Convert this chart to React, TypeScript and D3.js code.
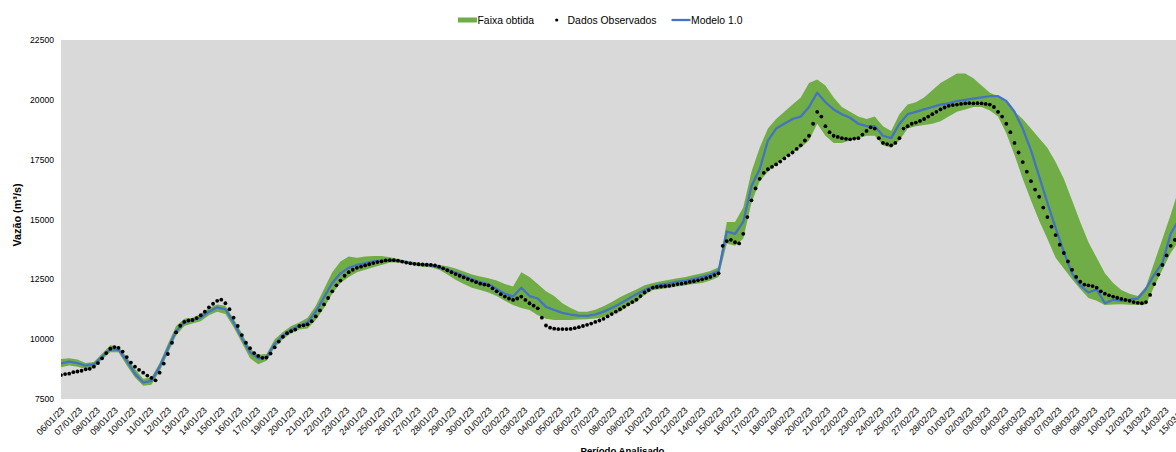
import React from 'react';
import * as d3 from 'd3';

// ---------- DATA ----------
const TICK_STEP_H = 26; // one category label every 26 hourly points
const tickLabels = [
  '06/01/23','07/01/23','08/01/23','09/01/23','10/01/23','11/01/23','12/01/23','13/01/23','14/01/23','15/01/23',
  '16/01/23','17/01/23','19/01/23','20/01/23','21/01/23','22/01/23','23/01/23','24/01/23','25/01/23','26/01/23',
  '27/01/23','28/01/23','29/01/23','30/01/23','01/02/23','02/02/23','03/02/23','04/02/23','05/02/23','06/02/23',
  '07/02/23','08/02/23','09/02/23','10/02/23','11/02/23','12/02/23','14/02/23','15/02/23','16/02/23','17/02/23',
  '18/02/23','19/02/23','20/02/23','21/02/23','22/02/23','23/02/23','24/02/23','25/02/23','27/02/23','28/02/23',
  '01/03/23','02/03/23','03/03/23','04/03/23','05/03/23','06/03/23','07/03/23','08/03/23','09/03/23','10/03/23',
  '12/03/23','13/03/23','14/03/23','15/03/23',
];

const yTicks = [7500, 10000, 12500, 15000, 17500, 20000, 22500];

// Observed flow (m³/s), every 6 hours from 06/01/23 00h
const OBS_STEP_H = 6;
const dadosObservados = [
  8500, 8540, 8560, 8620, 8650, 8680, 8740, 8760, 8850, 9000, 9200, 9420,
  9600, 9670, 9640, 9480, 9250, 9020, 8850, 8720, 8600, 8480, 8380, 8280,
  8600, 8980, 9380, 9850, 10280, 10560, 10720, 10780, 10800, 10880, 11000, 11150,
  11330, 11480, 11600, 11650, 11500, 11250, 10900, 10550, 10170, 9850, 9620, 9420,
  9300, 9220, 9230, 9400, 9660, 9900, 10100, 10250, 10330, 10400, 10550, 10580,
  10620, 10750, 10950, 11200, 11450, 11720, 12000, 12250, 12450, 12650, 12800, 12900,
  12980, 13030, 13080, 13130, 13180, 13220, 13250, 13290, 13300, 13300, 13280, 13240,
  13200, 13170, 13150, 13130, 13120, 13110, 13100, 13080, 13030, 12960, 12880, 12800,
  12720, 12650, 12580, 12510, 12450, 12380, 12320, 12280, 12250, 12120, 12000, 11880,
  11780, 11700, 11640, 11700, 11780, 11640, 11500, 11400, 11290, 10900, 10570, 10480,
  10440, 10420, 10420, 10420, 10430, 10460, 10500, 10550, 10600, 10650, 10720, 10780,
  10850, 10950, 11050, 11150, 11250, 11350, 11450, 11550, 11650, 11800, 11950, 12050,
  12150, 12180, 12200, 12210, 12230, 12260, 12300, 12320, 12350, 12390, 12420, 12460,
  12500, 12550, 12600, 12680, 12750, 13900, 14100, 14150, 14050, 14000, 14400, 15100,
  15800, 16300, 16700, 16950, 17100, 17200, 17300, 17420, 17550, 17680, 17800, 17950,
  18100, 18300, 18500, 19000, 19500, 19300, 18900, 18650, 18500, 18450, 18400, 18370,
  18350, 18380, 18400, 18550, 18700, 18850, 18800, 18400, 18200, 18150, 18100, 18200,
  18400, 18800, 18900, 19000, 19050, 19120, 19200, 19300, 19400, 19500, 19600, 19680,
  19750, 19780, 19800, 19830, 19850, 19860, 19850, 19860, 19850, 19830, 19800, 19700,
  19500, 19300, 19000, 18650, 18200, 17800, 17400, 17000, 16600, 16250, 15950, 15500,
  15100, 14700, 14350, 13950, 13600, 13250, 12900, 12600, 12400, 12280, 12250, 12220,
  12150, 12000, 11900, 11830, 11780, 11730, 11680, 11640, 11600, 11550, 11520, 11500,
  11550, 11850, 12300, 12700, 13100, 13500, 13900, 14150, 14400,
];

// Model and band, every 12 hours from 06/01/23 00h
const SERIES_STEP_H = 12;
const modelo = [
  8990, 9060, 9000, 8890, 8950, 9270, 9580, 9550, 9100, 8550,
  8190, 8260, 8850, 9600, 10330, 10700, 10790, 10900, 11150, 11330,
  11250, 10700, 10050, 9450, 9200, 9240, 9800, 10150, 10400, 10560,
  10700, 11150, 11750, 12350, 12750, 12980, 13100, 13170, 13250, 13280,
  13300, 13280, 13220, 13150, 13100, 13080, 13000, 12900, 12780, 12650,
  12500, 12380, 12300, 12100, 11900, 11780, 12150, 11800, 11700, 11350,
  11220, 11100, 11030, 10980, 10970, 11030, 11150, 11300, 11480, 11680,
  11880, 12050, 12200, 12280, 12330, 12400, 12450, 12520, 12600, 12700,
  12850, 14500, 14400, 14900, 16400, 17100, 18300, 18800, 19000, 19200,
  19300, 19700, 20300, 19900, 19600, 19400, 19250, 19000, 18900, 18900,
  18500, 18400, 19000, 19400, 19500, 19600, 19700, 19800, 19850, 19950,
  20000, 20050, 20100, 20150, 20150, 19950, 19500, 18800, 17900, 16800,
  15700, 14650, 13650, 12750, 12250, 11950, 12080, 11500, 11650, 11600,
  11650, 11700, 12100, 12700, 13200, 14400, 15000,
];
const faixaMin = [
  8830, 8900, 8850, 8750, 8800, 9150, 9450, 9450, 8900, 8400,
  8050, 8100, 8650, 9400, 10150, 10550, 10650, 10750, 11000, 11150,
  11050, 10500, 9850, 9200, 8950, 9100, 9650, 10000, 10250, 10400,
  10450, 10800, 11300, 11900, 12350, 12600, 12800, 12900, 13000, 13100,
  13200, 13200, 13150, 13080, 13030, 13000, 12900, 12700, 12480, 12300,
  12150, 12050, 11950, 11800, 11600, 11430, 11300, 11220, 11000, 10850,
  10800, 10800, 10800, 10820, 10830, 10860, 10920, 11050, 11150, 11400,
  11550, 11850, 12050, 12100, 12150, 12200, 12250, 12300, 12350, 12450,
  12600, 14000, 13900, 14200, 15700, 16600, 17000, 17300, 17600, 17800,
  18000, 18300, 19000, 18500, 18200, 18200, 18300, 18400, 18500, 18500,
  18100, 18000, 18300, 18800, 18900, 18950, 19000, 19100, 19300, 19500,
  19600, 19700, 19700, 19550, 19300, 18600, 17700, 16700, 15800, 14950,
  14200, 13400, 12950, 12500, 12100, 11720, 11600, 11430, 11450, 11460,
  11440, 11430, 11450, 12200, 12900, 13600, 14100,
];
const faixaMax = [
  9170, 9200, 9150, 9000, 9050, 9400, 9750, 9680, 9250, 8750,
  8350, 8400, 9000, 9800, 10550, 10850, 10900, 11050, 11300, 11450,
  11400, 10850, 10250, 9600, 9350, 9380, 10000, 10300, 10550, 10700,
  10900, 11400, 12100, 12800, 13250, 13450, 13400, 13450, 13480, 13480,
  13420, 13350, 13280, 13220, 13170, 13150, 13100, 13050, 12950, 12830,
  12700, 12620, 12550, 12450, 12300, 12200, 12800, 12600, 12300, 12000,
  11800, 11500, 11300, 11150, 11150, 11230, 11380, 11550, 11750, 11920,
  12080, 12250, 12350, 12420, 12480, 12550, 12600, 12680, 12750, 12850,
  13000, 14900, 14900, 15500, 17000, 18000, 18800, 19200, 19500, 19800,
  20100, 20700, 20850, 20600, 20100, 19700, 19500, 19300, 19200, 19300,
  18900, 18700, 19400, 19800, 19900, 20100, 20400, 20700, 20900, 21100,
  21100, 20900, 20600, 20300, 20150, 19900, 19500, 19200, 18800, 18400,
  18000, 17400, 16700, 15800, 14900, 14050, 13400, 12750, 12350, 12050,
  11900, 11800, 12200, 13200, 14200, 15200, 16300,
];

// ---------- LAYOUT ----------
const W = 1176;
const H = 452;
const PLOT = { left: 61, top: 40, right: 1183, bottom: 399 };
const FONT = "'Liberation Sans', Arial, sans-serif";
const GREEN = '#70ad47';
const BLUE = '#4472c4';

export default function App() {
  const lastHour = (tickLabels.length - 1) * TICK_STEP_H;
  const x = d3.scaleLinear().domain([0, lastHour]).range([PLOT.left, PLOT.right]);
  const y = d3.scaleLinear().domain([7500, 22500]).range([PLOT.bottom, PLOT.top]);

  const band = d3
    .area<number>()
    .x((_, i) => x(i * SERIES_STEP_H))
    .y0((_, i) => y(faixaMin[i]))
    .y1((_, i) => y(faixaMax[i]));
  const line = d3
    .line<number>()
    .x((_, i) => x(i * SERIES_STEP_H))
    .y((d) => y(d));

  return (
    <svg
      width={W}
      height={H}
      style={{ position: 'absolute', left: 0, top: 0, background: '#fff' }}
      fontFamily={FONT}
    >
      <defs>
        <clipPath id="plotClip">
          <rect x={PLOT.left} y={PLOT.top} width={PLOT.right - PLOT.left} height={PLOT.bottom - PLOT.top} />
        </clipPath>
      </defs>
      <rect x={0} y={0} width={W} height={H} fill="#fff" />
      <rect
        x={PLOT.left}
        y={PLOT.top}
        width={PLOT.right - PLOT.left}
        height={PLOT.bottom - PLOT.top}
        fill="#d9d9d9"
      />
      <g clipPath="url(#plotClip)">
        <path d={band(faixaMin) || ''} fill={GREEN} />
        <path d={line(modelo) || ''} fill="none" stroke={BLUE} strokeWidth={2.25} strokeLinejoin="round" />
        {dadosObservados.map((v, i) => (
          <circle key={i} cx={x(i * OBS_STEP_H)} cy={y(v)} r={1.9} fill="#000" />
        ))}
      </g>

      {/* Y axis labels */}
      {yTicks.map((t) => (
        <text key={t} x={54} y={y(t) + 3} textAnchor="end" fontSize={8.6} fill="#000">
          {t}
        </text>
      ))}
      <text
        transform={`translate(20.5,215) rotate(-90)`}
        textAnchor="middle"
        fontSize={10.8}
        fontWeight="bold"
        fill="#000"
      >
        Vazão (m³/s)
      </text>

      {/* X axis labels */}
      {tickLabels.map((lab, k) => (
        <text
          key={lab}
          transform={`translate(${x(k * TICK_STEP_H) + 4},${411}) rotate(-45)`}
          textAnchor="end"
          fontSize={9}
          fill="#000"
        >
          {lab}
        </text>
      ))}
      <text x={622.5} y={453.5} textAnchor="middle" fontSize={9.6} fontWeight="bold" fill="#000">
        Período Analisado
      </text>

      {/* Legend */}
      <rect x={458} y={17.5} width={19} height={5} fill={GREEN} />
      <text x={477.5} y={23.6} fontSize={10.4} fill="#000">Faixa obtida</text>
      <circle cx={556.7} cy={20} r={1.6} fill="#000" />
      <text x={567.6} y={23.6} fontSize={10.4} fill="#000">Dados Observados</text>
      <line x1={671.5} x2={690.5} y1={20} y2={20} stroke={BLUE} strokeWidth={2.25} />
      <text x={691} y={23.6} fontSize={10.4} fill="#000">Modelo 1.0</text>
    </svg>
  );
}
